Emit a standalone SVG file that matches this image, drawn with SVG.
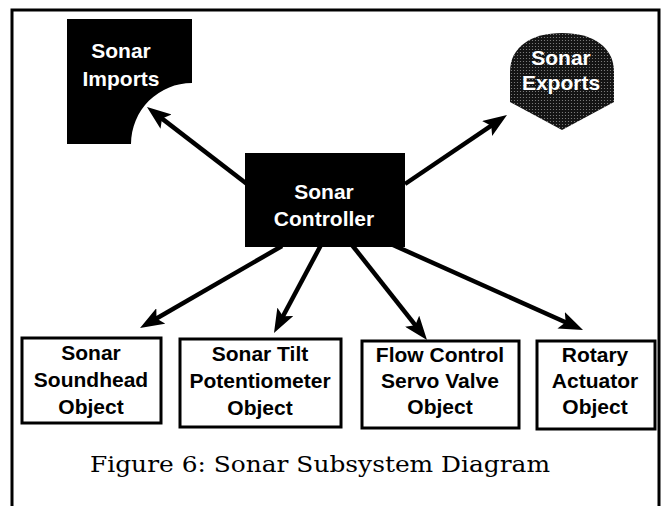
<svg xmlns="http://www.w3.org/2000/svg" width="665" height="506" viewBox="0 0 665 506">
<style>
.lbl{font-family:"Liberation Sans",Arial,sans-serif;font-weight:bold;font-size:21px;text-anchor:middle}
.inv{fill:#ffffff}
.box{fill:#ffffff;stroke:#000000;stroke-width:3}
.conn{stroke:#000000;stroke-width:4.5;fill:none;marker-end:url(#ah)}
.cap{font-family:"DejaVu Serif","Liberation Serif",serif;font-size:22px;fill:#000000}
</style>
<defs>
<marker id="ah" viewBox="0 0 24 18" refX="14" refY="9" markerWidth="24" markerHeight="18" markerUnits="userSpaceOnUse" orient="auto">
<path d="M0,0 L24,9 L0,18 L5,9 Z" fill="#000000"/>
</marker>
<pattern id="dots" width="3" height="3" patternUnits="userSpaceOnUse">
<rect width="3" height="3" fill="#141414"/>
<circle cx="1.5" cy="1.5" r="0.6" fill="#8a8a8a"/>
</pattern>
</defs>
<rect width="665" height="506" fill="#ffffff"/>
<g id="frame">
<path d="M12,530 V10 H659 V530" fill="none" stroke="#000000" stroke-width="3"/>
</g>
<g id="connectors">
<line class="conn" x1="247" y1="184" x2="154.9" y2="113.1"/>
<line class="conn" x1="405" y1="184" x2="498.7" y2="120.6"/>
<line class="conn" x1="282" y1="246" x2="148.7" y2="323"/>
<line class="conn" x1="321" y1="245" x2="278.7" y2="324.2"/>
<line class="conn" x1="352" y1="245" x2="420.8" y2="332.2"/>
<line class="conn" x1="393" y1="245" x2="573.9" y2="326"/>
</g>
<g id="sonar-imports">
<path d="M67,19 H192 V83 A61,61 0 0 0 131,144 H67 Z" fill="#000000"/>
<text class="lbl inv" x="121" y="58">Sonar</text>
<text class="lbl inv" x="121" y="86">Imports</text>
</g>
<g id="sonar-exports">
<path d="M510,102 L510,72 C510,47 531,33 562,33 C593,33 614,47 614,72 L614,102 L562,130 Z" fill="url(#dots)"/>
<text class="lbl inv" x="561" y="65">Sonar</text>
<text class="lbl inv" x="561" y="90">Exports</text>
</g>
<g id="sonar-controller">
<rect x="245" y="153" width="160" height="94" fill="#000000"/>
<text class="lbl inv" x="324" y="199">Sonar</text>
<text class="lbl inv" x="324" y="226">Controller</text>
</g>
<g id="soundhead">
<rect class="box" x="22" y="338" width="139" height="85"/>
<text class="lbl" x="91" y="360">Sonar</text>
<text class="lbl" x="91" y="387">Soundhead</text>
<text class="lbl" x="91" y="414">Object</text>
</g>
<g id="potentiometer">
<rect class="box" x="180" y="339" width="161" height="88"/>
<text class="lbl" x="260" y="361">Sonar Tilt</text>
<text class="lbl" x="260" y="388">Potentiometer</text>
<text class="lbl" x="260" y="415">Object</text>
</g>
<g id="servo-valve">
<rect class="box" x="362" y="341" width="157" height="87"/>
<text class="lbl" x="440" y="362">Flow Control</text>
<text class="lbl" x="440" y="388">Servo Valve</text>
<text class="lbl" x="440" y="414">Object</text>
</g>
<g id="rotary-actuator">
<rect class="box" x="537" y="341" width="118" height="88"/>
<text class="lbl" x="595" y="362">Rotary</text>
<text class="lbl" x="595" y="388">Actuator</text>
<text class="lbl" x="595" y="414">Object</text>
</g>
<g id="caption">
<text class="cap" x="90" y="472" textLength="460" lengthAdjust="spacingAndGlyphs">Figure 6: Sonar Subsystem Diagram</text>
</g>
</svg>
